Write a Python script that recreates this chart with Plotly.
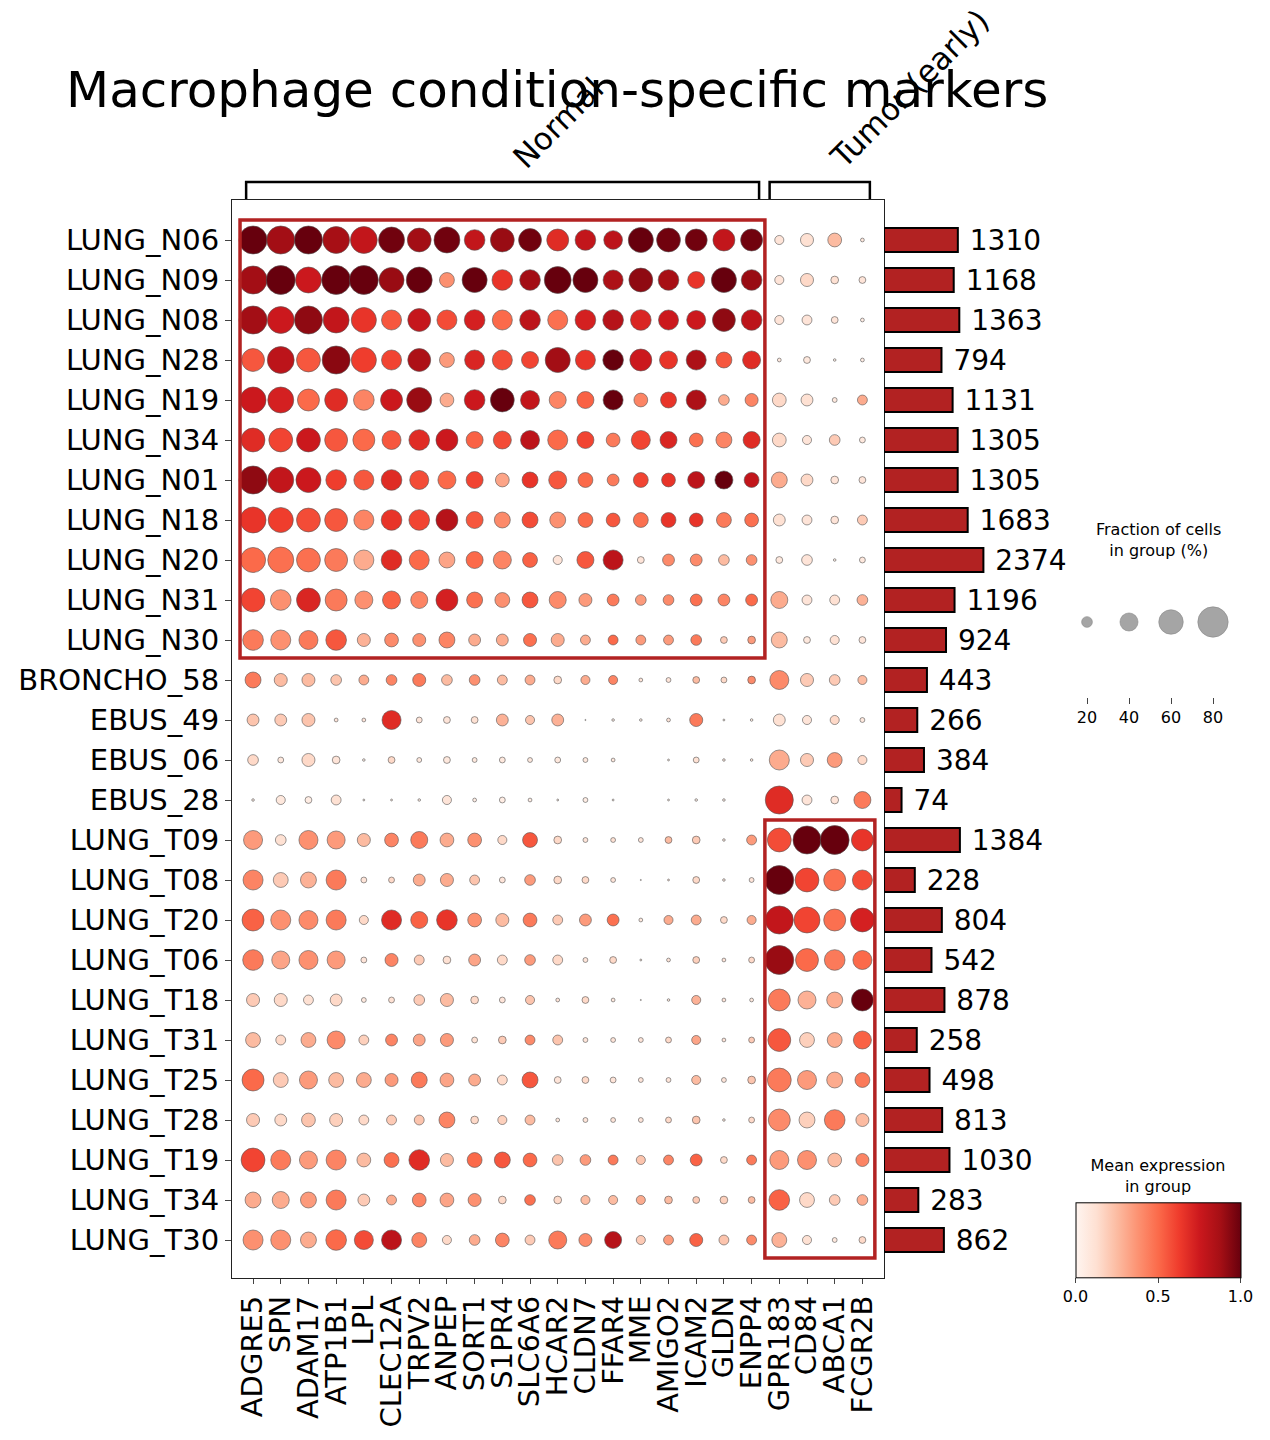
import numpy as np
import plotly.graph_objects as go

# ---- data ----
samples = ["LUNG_N06", "LUNG_N09", "LUNG_N08", "LUNG_N28", "LUNG_N19", "LUNG_N34", "LUNG_N01",
           "LUNG_N18", "LUNG_N20", "LUNG_N31", "LUNG_N30", "BRONCHO_58", "EBUS_49", "EBUS_06",
           "EBUS_28", "LUNG_T09", "LUNG_T08", "LUNG_T20", "LUNG_T06", "LUNG_T18", "LUNG_T31",
           "LUNG_T25", "LUNG_T28", "LUNG_T19", "LUNG_T34", "LUNG_T30"]

genes = ["ADGRE5", "SPN", "ADAM17", "ATP1B1", "LPL", "CLEC12A", "TRPV2", "ANPEP", "SORT1",
         "S1PR4", "SLC6A6", "HCAR2", "CLDN7", "FFAR4", "MME", "AMIGO2", "ICAM2", "GLDN",
         "ENPP4", "GPR183", "CD84", "ABCA1", "FCGR2B"]

cell_counts = [1310, 1168, 1363, 794, 1131, 1305, 1305, 1683, 2374, 1196, 924, 443, 266, 384,
               74, 1384, 228, 804, 542, 878, 258, 498, 813, 1030, 283, 862]

# mean expression in group (scaled 0-1), one row per sample
mean_expr = [
    [1.0, .88, 1.0, .87, .78, .98, .88, .98, .78, .90, .98, .68, .78, .80, 1.0, .98, .98, .78, .98, .10, .12, .25, .08],
    [.88, 1.0, .75, 1.0, 1.0, .90, 1.0, .38, 1.0, .65, .88, 1.0, 1.0, .85, .92, .87, .65, 1.0, .90, .10, .15, .12, .10],
    [.88, .75, .92, .78, .65, .55, .77, .58, .72, .50, .80, .48, .72, .82, .70, .75, .75, .92, .80, .10, .10, .10, .05],
    [.55, .80, .55, .93, .62, .60, .85, .35, .70, .58, .60, .88, .65, 1.0, .75, .65, .85, .55, .68, .08, .08, .05, .05],
    [.75, .72, .50, .68, .42, .75, .90, .30, .75, 1.0, .78, .42, .52, 1.0, .42, .65, .85, .30, .42, .15, .12, .08, .30],
    [.68, .60, .75, .55, .50, .55, .68, .75, .52, .58, .80, .50, .60, .45, .60, .70, .48, .42, .68, .15, .10, .20, .08],
    [.92, .78, .75, .62, .55, .68, .58, .50, .60, .32, .65, .55, .50, .45, .60, .65, .80, 1.0, .78, .30, .15, .10, .10],
    [.65, .62, .58, .55, .42, .65, .60, .82, .55, .40, .58, .38, .50, .55, .48, .65, .65, .45, .48, .12, .10, .10, .20],
    [.50, .48, .48, .45, .30, .68, .50, .32, .50, .42, .52, .10, .55, .80, .10, .40, .40, .25, .38, .08, .10, .05, .08],
    [.60, .38, .70, .45, .38, .52, .42, .72, .48, .38, .55, .40, .35, .45, .35, .40, .48, .42, .50, .30, .10, .12, .28],
    [.45, .38, .45, .55, .28, .40, .38, .42, .30, .30, .48, .30, .30, .50, .35, .35, .45, .20, .35, .25, .08, .12, .10],
    [.45, .25, .25, .22, .30, .42, .45, .25, .38, .25, .30, .15, .30, .42, .10, .10, .25, .15, .40, .40, .20, .20, .25],
    [.22, .20, .22, .10, .10, .68, .10, .10, .12, .28, .22, .28, .05, .05, .05, .10, .45, .05, .05, .12, .10, .15, .08],
    [.15, .08, .15, .10, .05, .15, .08, .08, .08, .08, .08, .08, .08, .08, 0.0, .05, .12, .08, .08, .30, .20, .35, .15],
    [.05, .08, .05, .12, .05, .05, .05, .10, .05, .05, .05, .05, .05, .05, 0.0, .05, .05, .05, 0.0, .68, .10, .10, .45],
    [.35, .12, .38, .35, .25, .42, .45, .30, .38, .15, .55, .15, .10, .12, .10, .25, .20, .08, .35, .58, 1.0, 1.0, .65],
    [.42, .20, .28, .45, .10, .15, .30, .30, .22, .10, .35, .15, .15, .10, .05, .10, .15, .08, .10, 1.0, .60, .48, .58],
    [.52, .38, .40, .45, .15, .68, .52, .65, .38, .25, .45, .20, .35, .48, .08, .30, .30, .15, .30, .78, .60, .48, .72],
    [.45, .32, .38, .35, .10, .42, .20, .12, .32, .15, .35, .15, .10, .15, .05, .10, .18, .10, .15, .90, .50, .45, .50],
    [.20, .15, .12, .15, .08, .12, .20, .25, .15, .10, .22, .10, .15, .08, .05, .08, .28, .10, .08, .45, .28, .30, 1.0],
    [.25, .15, .30, .40, .18, .42, .32, .35, .12, .20, .40, .22, .10, .10, .10, .15, .32, .10, .20, .55, .18, .30, .52],
    [.50, .20, .35, .25, .30, .35, .45, .32, .30, .15, .55, .10, .15, .10, .10, .10, .25, .10, .22, .45, .35, .30, .45],
    [.20, .15, .22, .18, .15, .20, .22, .42, .15, .18, .25, .08, .10, .10, .10, .15, .22, .08, .15, .40, .18, .45, .25],
    [.60, .45, .35, .42, .25, .48, .68, .25, .50, .55, .50, .22, .35, .45, .22, .42, .52, .15, .45, .35, .38, .25, .42],
    [.30, .30, .35, .45, .20, .30, .42, .32, .38, .15, .48, .15, .25, .25, .30, .25, .20, .18, .25, .52, .15, .20, .30],
    [.38, .38, .30, .50, .58, .80, .42, .15, .30, .42, .20, .45, .40, .82, .20, .35, .52, .22, .40, .28, .12, .08, .15],
]

# fraction of cells in group expressing the gene (%)
frac_cells = [
    [72, 72, 72, 68, 68, 65, 58, 65, 48, 58, 55, 52, 48, 42, 62, 58, 52, 52, 52, 16, 26, 28, 5],
    [72, 75, 65, 75, 75, 62, 65, 31, 62, 48, 48, 68, 62, 46, 58, 48, 37, 62, 48, 16, 26, 13, 11],
    [72, 68, 72, 65, 62, 46, 55, 46, 48, 46, 48, 46, 48, 48, 48, 46, 43, 55, 48, 16, 18, 11, 5],
    [55, 68, 58, 72, 62, 46, 55, 31, 46, 46, 37, 62, 46, 48, 52, 40, 46, 34, 40, 5, 11, 3, 5],
    [65, 65, 52, 55, 48, 52, 62, 28, 48, 58, 43, 37, 37, 46, 28, 34, 46, 20, 26, 28, 23, 7, 18],
    [58, 58, 58, 55, 52, 43, 48, 52, 37, 40, 43, 46, 37, 28, 43, 37, 28, 34, 37, 28, 16, 20, 9],
    [72, 65, 62, 48, 46, 48, 43, 40, 37, 28, 34, 40, 31, 23, 31, 28, 37, 40, 31, 34, 23, 13, 11],
    [65, 62, 58, 55, 46, 48, 48, 52, 37, 34, 34, 34, 31, 28, 31, 31, 28, 31, 28, 23, 18, 13, 18],
    [62, 65, 58, 55, 46, 48, 46, 34, 37, 40, 31, 16, 37, 46, 11, 23, 23, 20, 20, 11, 20, 3, 9],
    [58, 48, 58, 52, 40, 40, 37, 52, 34, 31, 34, 37, 26, 23, 20, 20, 23, 23, 23, 37, 18, 18, 20],
    [48, 46, 43, 48, 26, 28, 26, 34, 23, 23, 26, 26, 18, 18, 18, 18, 20, 11, 13, 34, 11, 16, 11],
    [34, 26, 26, 20, 18, 20, 26, 20, 20, 18, 18, 13, 16, 16, 5, 7, 11, 9, 13, 43, 26, 20, 16],
    [23, 23, 26, 5, 5, 43, 9, 11, 11, 23, 16, 23, 1, 3, 3, 5, 26, 2, 3, 23, 16, 16, 7],
    [20, 9, 26, 13, 3, 11, 7, 11, 7, 9, 7, 9, 7, 5, 0, 2, 9, 3, 3, 46, 26, 31, 16],
    [3, 16, 11, 18, 2, 2, 3, 16, 5, 9, 5, 2, 7, 2, 0, 2, 3, 3, 0, 72, 18, 13, 37],
    [43, 20, 43, 40, 26, 28, 37, 28, 28, 16, 31, 13, 7, 7, 7, 11, 13, 3, 18, 58, 72, 75, 52],
    [46, 31, 34, 46, 9, 9, 23, 26, 18, 9, 20, 13, 11, 7, 1, 2, 11, 3, 7, 75, 58, 52, 46],
    [52, 46, 43, 46, 16, 46, 37, 48, 28, 26, 28, 18, 23, 23, 5, 16, 18, 11, 16, 72, 65, 52, 58],
    [48, 40, 43, 40, 9, 26, 18, 13, 23, 18, 20, 18, 7, 11, 2, 5, 11, 5, 9, 75, 55, 48, 43],
    [26, 26, 18, 23, 7, 9, 20, 26, 13, 9, 16, 5, 11, 5, 1, 3, 16, 5, 5, 52, 40, 34, 52],
    [31, 18, 31, 40, 18, 23, 23, 26, 9, 13, 18, 18, 7, 7, 7, 9, 16, 5, 9, 55, 31, 31, 40],
    [52, 31, 40, 31, 31, 26, 34, 28, 23, 18, 34, 11, 11, 9, 7, 7, 16, 7, 13, 58, 43, 34, 31],
    [26, 23, 28, 26, 18, 18, 18, 34, 13, 16, 18, 5, 7, 7, 7, 9, 13, 3, 9, 52, 34, 48, 26],
    [58, 46, 40, 46, 28, 31, 48, 26, 31, 34, 28, 20, 20, 18, 16, 18, 23, 11, 18, 43, 43, 28, 26],
    [34, 37, 34, 46, 23, 18, 28, 28, 26, 13, 20, 13, 16, 16, 16, 13, 11, 13, 11, 48, 31, 20, 20],
    [46, 46, 34, 48, 43, 46, 31, 16, 20, 28, 18, 40, 26, 37, 16, 18, 26, 18, 18, 31, 16, 7, 11],
]

size_legend_vals = [20, 40, 60, 80]

gene_groups = ["Normal", "Tumor (early)"]

# ---- figure geometry (screen pixels; page body has an 8px margin) ----
W, H = 1270, 1440
OFF = 8
def px_x(v):
    return (v - OFF) / W
def px_y(v):
    return 1 - (v - OFF) / H

reds = [[0.0, "#fff5f0"], [0.125, "#fee0d2"], [0.25, "#fcbba1"], [0.375, "#fc9272"],
        [0.5, "#fb6a4a"], [0.625, "#ef3b2c"], [0.75, "#cb181d"], [0.875, "#a50f15"],
        [1.0, "#67000d"]]

def dot_size(frac):
    return 35.9 * (np.asarray(frac, dtype=float) / 100.0) ** 0.75

FONT = "DejaVu Sans"

expr = np.array(mean_expr)
frac = np.array(frac_cells)
gx = np.tile(genes, len(samples))
sy = np.repeat(samples, len(genes))

fig = go.Figure()

fig.add_trace(go.Scatter(
    x=gx, y=sy, mode="markers",
    marker=dict(size=dot_size(frac.ravel()), sizemode="diameter",
                color=expr.ravel(), coloraxis="coloraxis",
                line=dict(width=0.6, color="#555555"), opacity=1),
    showlegend=False, hoverinfo="skip",
))

# totals bars
fig.add_trace(go.Bar(
    x=np.sqrt(cell_counts), y=samples, orientation="h",
    xaxis="x2", yaxis="y2", width=0.6,
    marker=dict(color="#b22222", line=dict(color="black", width=2)),
    text=["\u00a0" + str(c) for c in cell_counts], textposition="outside",
    textfont=dict(size=28, color="black", family=FONT),
    constraintext="none", cliponaxis=False, showlegend=False, hoverinfo="skip",
))

# size legend
fig.add_trace(go.Scatter(
    x=size_legend_vals, y=[0.5] * len(size_legend_vals), mode="markers",
    xaxis="x3", yaxis="y3",
    marker=dict(size=dot_size(size_legend_vals), sizemode="diameter", color="gray",
                line=dict(width=0.6, color="#555555")),
    showlegend=False, hoverinfo="skip",
))

main_xdom = [px_x(232), px_x(884)]
main_ydom = [px_y(1278), px_y(200)]

fig.update_layout(
    width=W, height=H, margin=dict(l=0, r=0, t=0, b=0),
    paper_bgcolor="white", plot_bgcolor="white",
    font=dict(family=FONT, color="black"),
    xaxis=dict(domain=main_xdom, type="category", categoryorder="array", categoryarray=genes,
               range=[-0.76, 22.78], tickmode="linear", dtick=1, tickangle=-90,
               tickfont=dict(size=29),
               ticks="outside", ticklen=5, showgrid=False, zeroline=False,
               showline=True, mirror=True, linecolor="#222", linewidth=1.2),
    yaxis=dict(domain=main_ydom, type="category", categoryorder="array", categoryarray=samples,
               range=[25.95, -1], tickmode="linear", dtick=1, tickfont=dict(size=29),
               ticks="outside", ticklen=6,
               showgrid=False, zeroline=False,
               showline=True, mirror=True, linecolor="#222", linewidth=1.2),
    xaxis2=dict(domain=[px_x(884), px_x(1070)], range=[0, 186 / 2.04], anchor="y2",
                visible=False),
    yaxis2=dict(domain=main_ydom, type="category", categoryorder="array", categoryarray=samples,
                range=[25.95, -1], anchor="x2", visible=False),
    xaxis3=dict(domain=[px_x(1066), px_x(1234)], range=[10, 90], anchor="y3",
                tickvals=size_legend_vals, ticks="outside", ticklen=6, tickfont=dict(size=16),
                showline=False, showgrid=False, zeroline=False),
    yaxis3=dict(domain=[px_y(697), px_y(547)], range=[0, 1], anchor="x3", visible=False),
    coloraxis=dict(
        colorscale=reds, cmin=0, cmax=1,
        colorbar=dict(orientation="h", x=px_x(1158), xanchor="center",
                      y=px_y(1307), yanchor="bottom",
                      len=165, lenmode="pixels", thickness=75, thicknessmode="pixels",
                      xpad=0, ypad=0, outlinewidth=1, outlinecolor="black",
                      tickvals=[0, 0.5, 1], ticktext=["0.0", "0.5", "1.0"],
                      ticks="outside", ticklen=5, tickfont=dict(size=16),
                      title=dict(text="Mean expression<br>in group", side="top",
                                 font=dict(size=16))),
    ),
)

# red boxes around condition-specific blocks
box_color = "#b22222"
fig.add_shape(type="rect", xref="x", yref="y", x0=-0.47, x1=18.48, y0=-0.5, y1=10.45,
              line=dict(color=box_color, width=3.5))
fig.add_shape(type="rect", xref="x", yref="y", x0=18.48, x1=22.45, y0=14.5, y1=25.45,
              line=dict(color=box_color, width=3.5))

# gene group brackets
brackets = [(-0.25, 18.27), (18.65, 22.27)]
yb_top, yb_bot = px_y(182), px_y(199)
for (a, b), label in zip(brackets, gene_groups):
    fig.add_shape(type="path", xref="x", yref="paper",
                  path=f"M {a} {yb_bot} L {a} {yb_top} L {b} {yb_top} L {b} {yb_bot}",
                  line=dict(color="black", width=2.5))
    fig.add_annotation(x=(a + b) / 2, y=px_y(178), xref="x", yref="paper", text=label,
                       textangle=-45, xanchor="left", yanchor="bottom", showarrow=False,
                       font=dict(size=31))

# title
fig.add_annotation(x=px_x(64), y=px_y(90), xref="paper", yref="paper",
                   text="Macrophage condition-specific markers", showarrow=False,
                   xanchor="left", yanchor="middle", font=dict(size=50))

# size legend title
fig.add_annotation(x=px_x(1158), y=px_y(540), xref="paper", yref="paper",
                   text="Fraction of cells<br>in group (%)", showarrow=False,
                   xanchor="center", yanchor="middle", font=dict(size=16))

fig.write_html("out.html")
